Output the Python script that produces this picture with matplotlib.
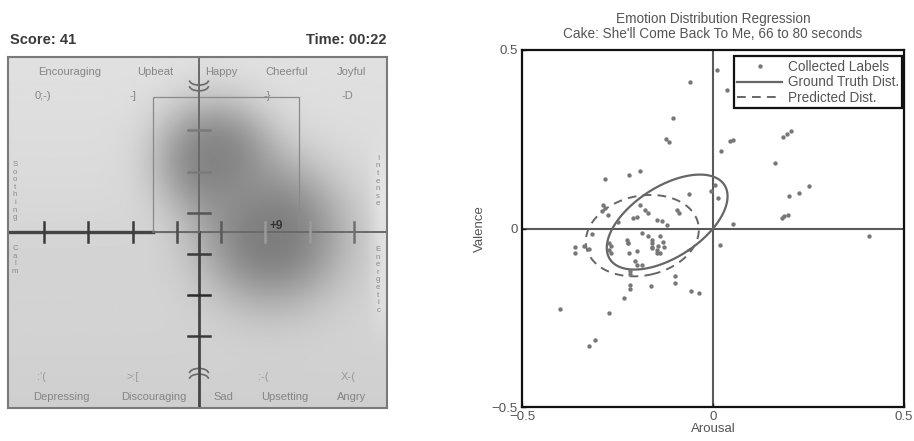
import numpy as np
import matplotlib
matplotlib.use('Agg')
import matplotlib.pyplot as plt
from matplotlib.patches import Rectangle, Arc

plt.rcParams['font.family'] = ['Liberation Sans', 'DejaVu Sans']

######################################################################
# Left panel : MoodSwings game screen
SCORE = 41
TIME = "00:22"
TOP_MOODS = ["Encouraging", "Upbeat", "Happy", "Cheerful", "Joyful"]
TOP_FACES = ["0;-)", "-]", "-}", "-D"]
BOTTOM_MOODS = ["Depressing", "Discouraging", "Sad", "Upsetting", "Angry"]
BOTTOM_FACES = [":'(", ">:[", ":-(", "X-("]
SIDE_WORDS = ["Soothing", "Calm", "Intense", "Energetic"]
BONUS = "+9"
# player / partner cursor blobs (arousal, valence, radius) in game units
BLOB_X = [0.084, 0.385]
BLOB_Y = [0.39, 0.0]
BLOB_R = [0.27, 0.335]

######################################################################
# Right panel : collected labels and fitted distributions
arousal = [0.011, 0.036, -0.061, -0.104, -0.123, -0.114, 0.045, 0.053, 0.021,
           0.184, 0.193, 0.203, 0.162, 0.25, 0.226, 0.2, 0.18, 0.186, 0.197,
           0.053, 0.409, 0.018, -0.006, 0.005, 0.014, -0.064, -0.191, -0.219,
           -0.282, -0.287, -0.283, -0.291, -0.274, -0.318, -0.36, -0.36,
           -0.339, -0.325, -0.271, -0.271, -0.266, -0.268, -0.223, -0.221,
           -0.199, -0.16, -0.16, -0.144, -0.129, -0.147, -0.138, -0.205,
           -0.199, -0.186, -0.218, -0.216, -0.216, -0.216, -0.161, -0.099,
           -0.1, -0.057, -0.037, -0.234, -0.4, -0.273, -0.31, -0.324, -0.209,
           -0.2, -0.178, -0.169, -0.191, -0.147, -0.134, -0.121, -0.226,
           -0.222, -0.187, -0.169, -0.16, -0.139, -0.13, -0.16, -0.147,
           -0.093, -0.089, -0.249]
valence = [0.443, 0.389, 0.41, 0.31, 0.251, 0.242, 0.245, 0.247, 0.217,
           0.257, 0.266, 0.273, 0.184, 0.12, 0.1, 0.092, 0.03, 0.036, 0.037,
           0.014, -0.02, -0.045, 0.104, 0.123, 0.085, 0.096, 0.162, 0.15,
           0.138, 0.067, 0.058, 0.048, 0.039, -0.015, -0.051, -0.07, -0.05,
           -0.057, -0.04, -0.059, -0.068, -0.05, -0.04, -0.068, -0.064,
           -0.04, -0.051, -0.048, -0.051, -0.07, -0.07, -0.092, -0.101,
           -0.101, -0.118, -0.128, -0.157, -0.169, -0.16, -0.132, -0.152,
           -0.176, -0.18, -0.196, -0.225, -0.236, -0.311, -0.33, 0.03,
           0.032, 0.053, 0.044, 0.067, 0.025, 0.02, 0.011, -0.031, -0.04,
           -0.014, -0.021, -0.031, -0.02, -0.038, -0.054, -0.059, 0.052,
           0.043, 0.017]
gt_mean = [-0.12, 0.018]
gt_cov = [[0.0250, 0.0114], [0.0114, 0.0177]]
pred_mean = [-0.185, -0.02]
pred_cov = [[0.0219, 0.0025], [0.0025, 0.0130]]


def ellipse_xy(mean, cov, n=200):
    t = np.linspace(0, 2 * np.pi, n)
    vals, vecs = np.linalg.eigh(np.array(cov))
    circ = np.vstack([np.cos(t), np.sin(t)])
    pts = vecs @ (np.sqrt(vals)[:, None] * circ)
    return pts[0] + mean[0], pts[1] + mean[1]


W, H = 914, 441
fig = plt.figure(figsize=(W / 100, H / 100), dpi=100)

# ---------------- left panel ----------------
U = 189.5  # pixels per game unit
x0, x1 = -(199 - 8) / U, (387 - 199) / U
y0, y1 = -(408 - 232) / U, (232 - 57) / U
axl = fig.add_axes([8 / W, 1 - 408 / H, 379 / W, 351 / H])
axl.set_xlim(x0, x1)
axl.set_ylim(y0, y1)
axl.set_xticks([])
axl.set_yticks([])
for s in axl.spines.values():
    s.set_color('#7a7a7a')
    s.set_linewidth(1.5)

gx, gy = np.meshgrid(np.linspace(x0, x1, 400), np.linspace(y1, y0, 370))
bg = 0.845 + 0.035 * (gy / 0.93) - 0.01 * np.exp(-((gy + 0.1) / 0.25) ** 2)
bg += 0.06 * np.exp(-((gx - 0.97) / 0.06) ** 2) * np.exp(-((gy + 0.05) / 0.45) ** 4)
light = np.ones_like(bg)
for bx, by, br in zip(BLOB_X, BLOB_Y, BLOB_R):
    r = np.hypot(gx - bx, gy - by) / br
    light *= 1 - np.exp(-0.69 * r ** 2.6)
dark = 0.34 * (1 - light)
axl.imshow(np.clip(bg - dark, 0, 1), cmap='gray', vmin=0, vmax=1,
           extent=(x0, x1, y0, y1), aspect='auto', interpolation='bilinear')

# thin guide rectangle
axl.add_patch(Rectangle((-0.241, 0), 0.769, 0.714, fill=False,
                        edgecolor='#8a8a8a', linewidth=0.9))

# axes of the game board
axl.plot([x0, -0.245], [0, 0], color='#444444', lw=2.4)
axl.plot([-0.245, x1], [0, 0], color='#6a6a6a', lw=1.4)
axl.plot([0, 0], [y0, 0], color='#454545', lw=2.0)
axl.plot([0, 0], [0, y1], color='#6a6a6a', lw=1.4)
htick = [-0.82, -0.584, -0.35, -0.117, 0.117, 0.35, 0.584, 0.82]
hcol = ['#3a3a3a', '#3a3a3a', '#3a3a3a', '#4a4a4a', '#5a5a5a', '#9a9a9a', '#9a9a9a', '#707070']
for t, c in zip(htick, hcol):
    axl.plot([t, t], [-0.053, 0.053], color=c, lw=1.8)
vtick = [0.538, 0.318, 0.102, -0.116, -0.331, -0.547]
vcol = ['#7a7a7a', '#7a7a7a', '#555555', '#3a3a3a', '#2a2a2a', '#3a3a3a']
for t, c in zip(vtick, vcol):
    axl.plot([-0.058, 0.058], [t, t], color=c, lw=1.8)

# smile / frown icons on the valence axis
for dy in (0.0, 0.03):
    axl.add_patch(Arc((0, 0.80 - dy), 0.1, 0.05, theta1=180, theta2=360,
                      color='#6a6a6a', lw=1.2))
    axl.add_patch(Arc((0, -0.745 - dy), 0.1, 0.05, theta1=0, theta2=180,
                      color='#6a6a6a', lw=1.2))

lab = dict(color='#858585', fontsize=8, ha='center', va='center')
for txt, x in zip(TOP_MOODS, [-0.681, -0.232, 0.116, 0.465, 0.802]):
    axl.text(x, 0.844, txt, **lab)
for txt, x in zip(TOP_FACES, [-0.823, -0.348, 0.359, 0.781]):
    axl.text(x, 0.718, txt, **lab)
for txt, x in zip(BOTTOM_FACES, [-0.834, -0.348, 0.338, 0.786]):
    axl.text(x, -0.765, txt, color='#9a9a9a', fontsize=8, ha='center', va='center')
for txt, x in zip(BOTTOM_MOODS, [-0.728, -0.237, 0.127, 0.454, 0.807]):
    axl.text(x, -0.871, txt, **lab)
for txt, (x, y) in zip(SIDE_WORDS, [(-0.971, 0.216), (-0.971, -0.148),
                                     (0.945, 0.269), (0.945, -0.253)]):
    axl.text(x, y, "\n".join(txt), color='#8a8a8a', fontsize=5.6,
             ha='center', va='center', linespacing=1.12)
axl.text(0.406, 0.032, BONUS, color='#333333', fontsize=8.5, fontweight='bold',
         ha='center', va='center')

fig.text(10 / W, 1 - 40 / H, "Score: %d" % SCORE, color='#3a3a3a',
         fontsize=10.5, fontweight='bold', ha='left', va='center')
fig.text(386 / W, 1 - 40 / H, "Time: %s" % TIME, color='#3a3a3a',
         fontsize=10.5, fontweight='bold', ha='right', va='center')

# ---------------- right panel ----------------
ax = fig.add_axes([522 / W, 1 - 407 / H, 382 / W, 357 / H])
ax.set_xlim(-0.5, 0.5)
ax.set_ylim(-0.5, 0.5)
ax.axhline(0, color='#5a5a5a', lw=1.5, zorder=1)
ax.axvline(0, color='#5a5a5a', lw=1.5, zorder=1)
ax.plot(arousal, valence, '.', color='#777777', markersize=4.3,
        label='Collected Labels', zorder=3)
ex, ey = ellipse_xy(gt_mean, gt_cov)
ax.plot(ex, ey, '-', color='#666666', lw=1.6, label='Ground Truth Dist.', zorder=2)
px, py = ellipse_xy(pred_mean, pred_cov)
ax.plot(px, py, '--', color='#666666', lw=1.4, dashes=(4.5, 3.2),
        label='Predicted Dist.', zorder=2)

ax.set_xticks([-0.5, 0, 0.5])
ax.set_yticks([-0.5, 0, 0.5])
ax.set_xticklabels(['\u22120.5', '0', '0.5'])
ax.set_yticklabels(['\u22120.5', '0', '0.5'])
ax.tick_params(direction='in', length=3, width=1, colors='#222222',
               labelcolor='#555555', labelsize=9.5, pad=3)
for s in ax.spines.values():
    s.set_color('#111111')
    s.set_linewidth(1.6)
ax.set_xlabel('Arousal', color='#555555', fontsize=9.5, labelpad=0)
ax.set_ylabel('Valence', color='#555555', fontsize=9.5, labelpad=4)
ax.set_title("Emotion Distribution Regression\n"
             "Cake: She'll Come Back To Me, 66 to 80 seconds",
             color='#555555', fontsize=9.8, pad=9, linespacing=1.05)
leg = ax.legend(loc='upper right', bbox_to_anchor=(0.995, 0.982), fontsize=9.8,
                fancybox=False, framealpha=1, edgecolor='#111111',
                borderaxespad=0, handlelength=3.3, handletextpad=0.4,
                labelspacing=0.12, borderpad=0.25, markerscale=1.0)
leg.get_frame().set_linewidth(1.6)
for t in leg.get_texts():
    t.set_color('#555555')

fig.savefig('out.png', dpi=100)
plt.close(fig)
